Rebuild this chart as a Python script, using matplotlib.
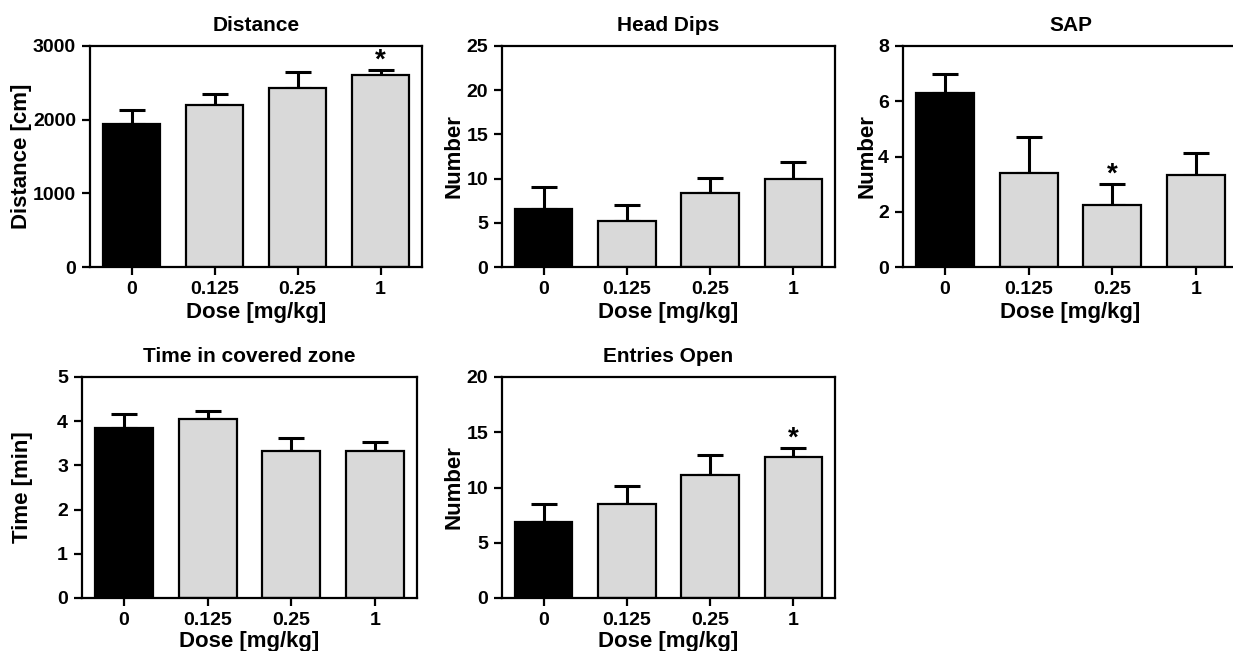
import matplotlib
matplotlib.use("Agg")
import matplotlib.pyplot as plt

plt.rcParams['font.family'] = ['Liberation Sans', 'DejaVu Sans']
plt.rcParams['font.weight'] = 'bold'
plt.rcParams['axes.titleweight'] = 'bold'
plt.rcParams['axes.labelweight'] = 'bold'

doses = ['0', '0.125', '0.25', '1']

distance_mean = [1940, 2200, 2425, 2600]
distance_err = [190, 150, 225, 80]

headdips_mean = [6.6, 5.25, 8.35, 10.0]
headdips_err = [2.45, 1.8, 1.7, 1.9]

sap_mean = [6.3, 3.4, 2.25, 3.33]
sap_err = [0.7, 1.32, 0.77, 0.8]

time_mean = [3.85, 4.04, 3.33, 3.33]
time_err = [0.32, 0.2, 0.3, 0.19]

entries_mean = [6.9, 8.5, 11.15, 12.8]
entries_err = [1.6, 1.62, 1.75, 0.8]

bar_colors = ['black', '#d9d9d9', '#d9d9d9', '#d9d9d9']

W, H = 1233, 651
fig = plt.figure(figsize=(W / 100, H / 100), dpi=100)


def px_axes(left, top, right, bottom):
    return fig.add_axes([left / W, 1 - bottom / H, (right - left) / W, (bottom - top) / H])


def panel(ax, title, ylabel, mean, err, ymax, yticks, stars, ylab_x, xlab_y):
    x = list(range(len(doses)))
    ax.bar(x, mean, width=0.69, color=bar_colors, edgecolor='black', linewidth=1.6, zorder=2)
    ax.errorbar(x, mean, yerr=[[0] * len(err), err], fmt='none', ecolor='black',
                elinewidth=2.2, capsize=9.5, capthick=2.2, zorder=1)
    for i in stars:
        ax.annotate('*', (x[i], mean[i] + err[i]), xytext=(0, 1.5), textcoords='offset points',
                    ha='center', va='baseline', fontsize=20, fontweight='bold')
    ax.set_xlim(-0.5, 3.5)
    ax.set_ylim(0, ymax)
    ax.set_yticks(yticks)
    ax.set_xticks(x)
    ax.set_xticklabels(doses)
    ax.tick_params(direction='out', length=6, width=1.6, labelsize=14, pad=4)
    for s in ax.spines.values():
        s.set_linewidth(1.6)
    ax.set_title(title, fontsize=15, pad=11)
    ax.set_ylabel(ylabel, fontsize=16, va='center')
    ax.yaxis.set_label_coords(ylab_x, 0.5)
    ax.set_xlabel('Dose [mg/kg]', fontsize=16, va='center')
    ax.xaxis.set_label_coords(0.5, xlab_y)


ax1 = px_axes(90, 46, 422, 267)
panel(ax1, 'Distance', 'Distance [cm]', distance_mean, distance_err, 3000,
      [0, 1000, 2000, 3000], [3], -0.205, -0.208)

ax2 = px_axes(502, 46, 835, 267)
panel(ax2, 'Head Dips', 'Number', headdips_mean, headdips_err, 25,
      [0, 5, 10, 15, 20, 25], [], -0.143, -0.208)

ax3 = px_axes(903, 46, 1238, 267)
panel(ax3, 'SAP', 'Number', sap_mean, sap_err, 8,
      [0, 2, 4, 6, 8], [2], -0.106, -0.208)

ax4 = px_axes(82, 377, 417, 598)
panel(ax4, 'Time in covered zone', 'Time [min]', time_mean, time_err, 5,
      [0, 1, 2, 3, 4, 5], [], -0.179, -0.195)

ax5 = px_axes(502, 377, 835, 598)
panel(ax5, 'Entries Open', 'Number', entries_mean, entries_err, 20,
      [0, 5, 10, 15, 20], [3], -0.143, -0.195)

fig.savefig('out.png', dpi=100)
